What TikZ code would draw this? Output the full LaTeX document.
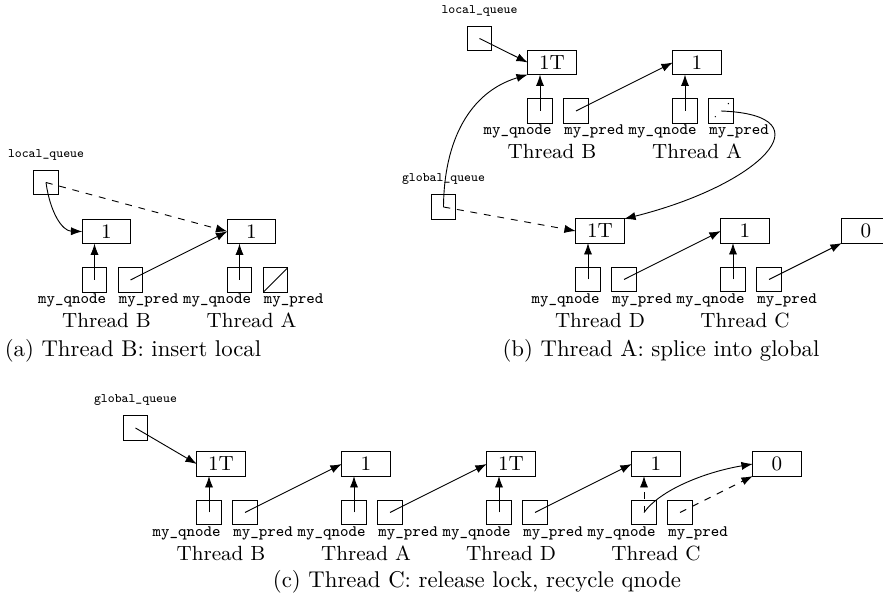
\documentclass[tikz,border=0pt]{standalone}
\usetikzlibrary{arrows.meta}
\newcommand\mkthread[5]{%
 \begin{scope}[shift={(#2,#3)}]
  \node[qn] (#1n) at (0,0) {#4};
  \node[cell] (#1q) at (-12,48.5) {};
  \node[cell] (#1p) at (24,48.5) {};
  \node[lbl, anchor=base east] (#1ql) at (0,72.5) {my\_qnode};
  \node[lbl, anchor=base west] (#1pl) at (12,72.5) {my\_pred};
  \node[thr] (#1t) at (0,96.5) {Thread #5};
 \end{scope}}
\begin{document}
\begin{tikzpicture}[x=0.4386pt,y=-0.4386pt,
  cell/.style={draw, minimum width=10.6pt, minimum height=10.6pt, inner sep=0pt, outer sep=0pt},
  qn/.style={draw, minimum width=21.2pt, minimum height=10.6pt, inner sep=0pt, outer sep=0pt, font=\fontsize{9}{10}\selectfont},
  ptr/.style={-{Latex[length=5pt,width=3.6pt]}},
  lbl/.style={anchor=base, inner sep=0pt, font=\fontsize{7}{8}\selectfont\ttfamily},
  qlbl/.style={anchor=base, inner sep=0pt, font=\fontsize{5.7}{6}\selectfont\ttfamily},
  thr/.style={anchor=base, inner sep=0pt, font=\fontsize{9}{10}\selectfont},
  captext/.style={anchor=base, inner sep=0pt, font=\fontsize{10}{12}\selectfont},
]
\useasboundingbox (0,0) rectangle (883,601);
\clip (0,0) rectangle (883,601);

% ---------- (a)
\node[cell] (lqa) at (46,182.5) {};
\node[qlbl] (lqal) at (46,157.5) {local\_queue};
\mkthread{aB}{106.5}{231.5}{1}{B}
\mkthread{aA}{251.5}{231.5}{1}{A}
\draw[ptr] (lqa.center) .. controls (50,212) and (62,231) .. (aBn.west);
\draw[ptr,dashed] (lqa.center) -- (aAn.west);
\draw[ptr] (aBq.center) -- (aBq.center |- aBn.south);
\draw[ptr] (aBp.center) -- (aAn.west);
\draw[ptr] (aAq.center) -- (aAq.center |- aAn.south);
\draw (aAp.south west) -- (aAp.north east);
\node[captext] (capa) at (133,357) {(a) Thread B: insert local};

% ---------- (b)
\node[cell] (lqb) at (479.5,38.5) {};
\node[qlbl] (lqbl) at (479.5,13.5) {local\_queue};
\node[cell] (gqb) at (443.5,207) {};
\node[qlbl] (gqbl) at (443.5,182) {global\_queue};
\mkthread{bB}{552}{62.5}{1T}{B}
\mkthread{bA}{697}{62.5}{1}{A}
\mkthread{bD}{600}{231}{1T}{D}
\mkthread{bC}{745}{231}{1}{C}
\node[qn] (bz) at (866,231) {0};
\draw[ptr] (lqb.center) -- (bBn.west);
\draw[ptr] (gqb.center) .. controls (444,140) and (470,92) .. (bBn.south west);
\draw[ptr] (bBq.center) -- (bBq.center |- bBn.south);
\draw[ptr] (bBp.center) -- (bAn.west);
\draw[ptr] (bAq.center) -- (bAq.center |- bAn.south);
\draw[dash pattern=on 0.5pt off 7.6pt, dash phase=4.4pt] (bAp.south west) -- (bAp.north east);
\draw[ptr] (bAp.center) .. controls (830,115) and (760,185) .. (bDn.north east);
\draw[ptr,dashed] (gqb.center) -- (bDn.west);
\draw[ptr] (bDq.center) -- (bDq.center |- bDn.south);
\draw[ptr] (bDp.center) -- (bCn.west);
\draw[ptr] (bCq.center) -- (bCq.center |- bCn.south);
\draw[ptr] (bCp.center) -- (bz.south west);
\node[captext] (capb) at (661,357) {(b) Thread A: splice into global};

% ---------- (c)
\node[cell] (gqc) at (135.5,428) {};
\node[qlbl] (gqcl) at (135.5,403) {global\_queue};
\mkthread{cB}{221}{464}{1T}{B}
\mkthread{cA}{366}{464}{1}{A}
\mkthread{cD}{511}{464}{1T}{D}
\mkthread{cC}{656}{464}{1}{C}
\node[qn] (cz) at (777,464) {0};
\draw[ptr] (gqc.center) -- (cBn.west);
\draw[ptr] (cBq.center) -- (cBq.center |- cBn.south);
\draw[ptr] (cBp.center) -- (cAn.west);
\draw[ptr] (cAq.center) -- (cAq.center |- cAn.south);
\draw[ptr] (cAp.center) -- (cDn.west);
\draw[ptr] (cDq.center) -- (cDq.center |- cDn.south);
\draw[ptr] (cDp.center) -- (cCn.west);
\draw[ptr,dashed] (cCq.center) -- (cCq.center |- cCn.south);
\draw[ptr] (cCq.center) .. controls (660,490) and (705,472) .. (cz.west);
\draw[ptr,dashed] (cCp.center) -- (cz.south west);
\node[captext] (capc) at (477,588) {(c) Thread C: release lock, recycle qnode};
\end{tikzpicture}
\end{document}
